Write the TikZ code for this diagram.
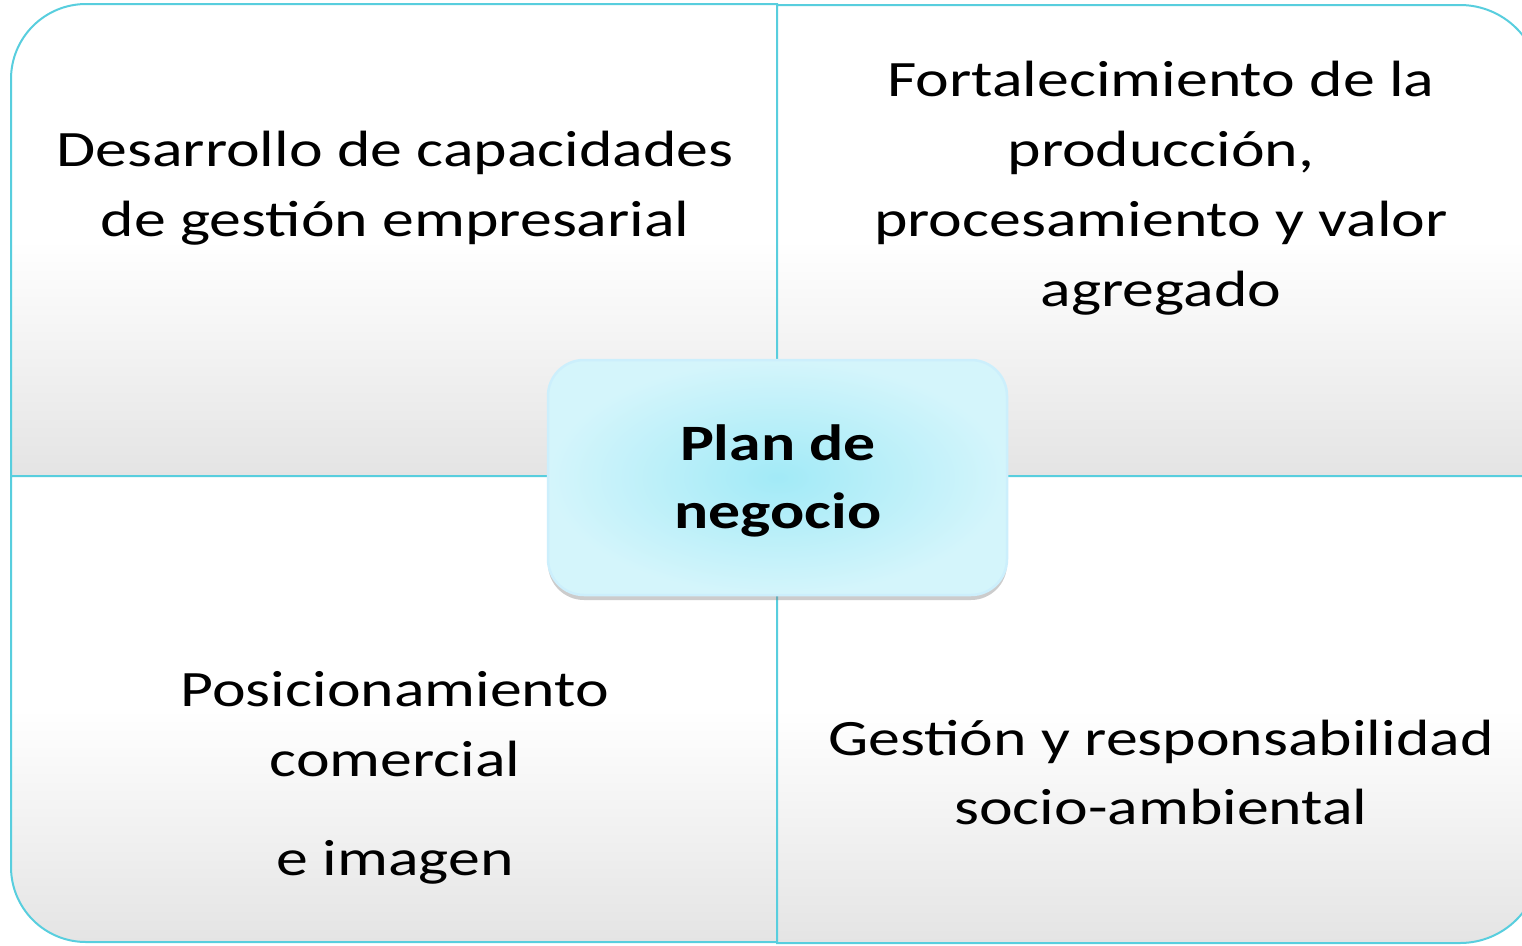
\documentclass[tikz,border=0pt]{standalone}
\usepackage{fontspec}
\usepackage{graphicx}
\setmainfont{Carlito}
\usetikzlibrary{shadows}
\definecolor{edgec}{RGB}{88,206,222}
\definecolor{qgray}{RGB}{228,228,228}
\definecolor{cin}{RGB}{162,234,247}
\definecolor{cout}{RGB}{212,245,251}
\newcommand{\sx}[1]{\scalebox{1.25}[1]{#1}}
\begin{document}
\begin{tikzpicture}[x=1pt,y=-1pt,
  quad/.style={draw=edgec, line width=2pt, top color=white, bottom color=qgray, middle color=white},
  qtext/.style={font=\fontsize{51}{70}\selectfont, anchor=base, inner sep=0pt},
  ctext/.style={font=\fontsize{51}{70}\selectfont\bfseries, anchor=base, inner sep=0pt}]
\useasboundingbox (0,0) rectangle (1522,945);
% quadrants
\path[quad] (777,476) -- (11,476) -- (11,79) arc[start angle=180, end angle=270, radius=75] -- (777,4) -- cycle;
\path[quad] (777,476) -- (777,5) -- (1460,5) arc[start angle=270, end angle=360, radius=80] -- (1540,476) -- cycle;
\path[quad] (11,476) -- (777,476) -- (777,942) -- (86,942) arc[start angle=90, end angle=180, radius=75] -- cycle;
\path[quad] (777,476) -- (1540,476) -- (1540,863) arc[start angle=0, end angle=90, radius=80] -- (777,943) -- cycle;
% texts
\node[qtext] (tl1) at (395,166) {\sx{Desarrollo de capacidades}};
\node[qtext] (tl2) at (395,236) {\sx{de gestión empresarial}};
\node[qtext] (tr1) at (1161,96) {\sx{Fortalecimiento de la}};
\node[qtext] (tr2) at (1161,166) {\sx{producción,}};
\node[qtext] (tr3) at (1161,236) {\sx{procesamiento y valor}};
\node[qtext] (tr4) at (1161,306) {\sx{agregado}};
\node[qtext] (bl1) at (395,706) {\sx{Posicionamiento}};
\node[qtext] (bl2) at (395,776) {\sx{comercial}};
\node[qtext] (bl3) at (395,875) {\sx{e imagen}};
\node[qtext] (br1) at (1161,755) {\sx{Gestión y responsabilidad}};
\node[qtext] (br2) at (1161,824) {\sx{socio-ambiental}};
% center
\path[rounded corners=36pt, draw=white!80!cyan, line width=2.5pt, inner color=cin, outer color=cout,
  drop shadow={opacity=0.4, shadow xshift=0pt, shadow yshift=-5pt}]
  (548,360) rectangle (1007,595);
\node[ctext] (c1) at (778,460) {\sx{Plan de}};
\node[ctext] (c2) at (778,528) {\sx{negocio}};
\end{tikzpicture}
\end{document}
